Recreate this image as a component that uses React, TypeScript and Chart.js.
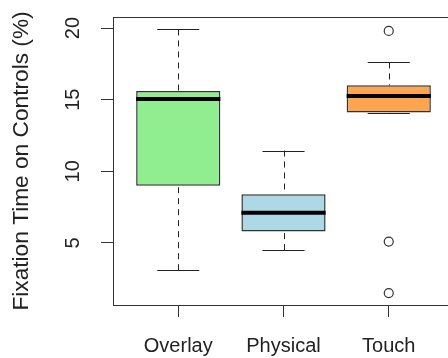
import React, { useEffect, useRef } from "react";
import { Chart, registerables } from "chart.js";

Chart.register(...registerables);

const categories = ["Overlay", "Physical", "Touch"];
const whiskerLow = [3.1, 4.5, 14.1];
const q1 = [9.0, 5.8, 14.1];
const median = [15.05, 7.1, 15.25];
const q3 = [15.6, 8.4, 16.0];
const whiskerHigh = [19.9, 11.45, 17.6];
const outlierGroup = [3, 3, 3];
const outlierValues = [19.8, 5.1, 1.5];
const yTicks = [5, 10, 15, 20];
const boxColors = ["#90EE90", "#ADD8E6", "#FFA54F"];

const INK = "#222222";
const FONT = "'Liberation Sans', Arial, sans-serif";

const boxplotPlugin = {
  id: "boxplotExtras",
  afterDatasetsDraw(chart: any) {
    const ctx = chart.ctx;
    const xs = chart.scales.x;
    const ys = chart.scales.y;
    ctx.save();
    ctx.strokeStyle = INK;
    ctx.lineWidth = 1;
    categories.forEach((_, i) => {
      const xc = Math.round(xs.getPixelForValue(i + 1)) + 0.5;
      const capL = xs.getPixelForValue(i + 1 - 0.2);
      const capR = xs.getPixelForValue(i + 1 + 0.2);
      const yLo = ys.getPixelForValue(whiskerLow[i]);
      const yQ1 = ys.getPixelForValue(q1[i]);
      const yQ3 = ys.getPixelForValue(q3[i]);
      const yHi = ys.getPixelForValue(whiskerHigh[i]);
      ctx.setLineDash([6, 5]);
      ctx.beginPath();
      ctx.moveTo(xc, yHi);
      ctx.lineTo(xc, yQ3);
      ctx.stroke();
      ctx.beginPath();
      ctx.moveTo(xc, yLo);
      ctx.lineTo(xc, yQ1);
      ctx.stroke();
      ctx.setLineDash([]);
      ctx.beginPath();
      ctx.moveTo(capL, Math.round(yHi) + 0.5);
      ctx.lineTo(capR, Math.round(yHi) + 0.5);
      ctx.moveTo(capL, Math.round(yLo) + 0.5);
      ctx.lineTo(capR, Math.round(yLo) + 0.5);
      ctx.stroke();
      const bl = xs.getPixelForValue(i + 1 - 0.4);
      const br = xs.getPixelForValue(i + 1 + 0.4);
      const ym = ys.getPixelForValue(median[i]);
      ctx.strokeStyle = "#000000";
      ctx.lineWidth = 4;
      ctx.beginPath();
      ctx.moveTo(bl, ym);
      ctx.lineTo(br, ym);
      ctx.stroke();
      ctx.strokeStyle = INK;
      ctx.lineWidth = 1;
    });
    const a = chart.chartArea;
    ctx.strokeStyle = "#333333";
    ctx.lineWidth = 1;
    ctx.strokeRect(Math.round(a.left) + 0.5, Math.round(a.top) + 0.5, Math.round(a.right - a.left), Math.round(a.bottom - a.top));
    ctx.restore();
  },
};

export default function App() {
  const ref = useRef<HTMLCanvasElement | null>(null);
  useEffect(() => {
    if (!ref.current) return;
    const chart = new Chart(ref.current, {
      type: "bar",
      data: {
        datasets: [
          {
            type: "bar",
            data: categories.map((_, i) => ({ x: i + 1, y: [q1[i], q3[i]] })) as any,
            backgroundColor: boxColors,
            borderColor: "#333333",
            borderWidth: 1.5,
            borderSkipped: false,
            barPercentage: 0.8,
            categoryPercentage: 1,
          } as any,
          {
            type: "scatter",
            data: outlierValues.map((v, i) => ({ x: outlierGroup[i], y: v })),
            pointStyle: "circle",
            pointRadius: 4.5,
            pointBackgroundColor: "#ffffff",
            pointBorderColor: "#333333",
            pointBorderWidth: 1.2,
          } as any,
        ],
      },
      options: {
        animation: false,
        responsive: false,
        events: [],
        layout: { padding: { top: 17, right: 16, left: 0, bottom: 0 } },
        plugins: { legend: { display: false }, tooltip: { enabled: false } },
        scales: {
          x: {
            type: "linear",
            min: 0.38,
            max: 3.62,
            offset: false,
            afterBuildTicks: (s: any) => {
              s.ticks = categories.map((_, i) => ({ value: i + 1 }));
            },
            afterFit: (s: any) => {
              s.height = 53;
              s.paddingLeft = 0;
              s.paddingRight = 0;
            },
            ticks: {
              autoSkip: false,
              maxRotation: 0,
              minRotation: 0,
              padding: 17,
              color: INK,
              font: { family: FONT, size: 20 },
              callback: (v: any) => categories[Math.round(Number(v)) - 1] ?? "",
            },
            grid: { offset: false, drawOnChartArea: false, drawTicks: true, tickLength: 12, color: "#333333", lineWidth: 1 },
            border: { display: false },
          },
          y: {
            type: "linear",
            min: 0.67,
            max: 20.77,
            afterBuildTicks: (s: any) => {
              s.ticks = yTicks.map((v) => ({ value: v }));
            },
            afterFit: (s: any) => {
              s.width = 113;
              s.paddingTop = 0;
              s.paddingBottom = 0;
            },
            ticks: {
              autoSkip: false,
              minRotation: 90,
              maxRotation: 90,
              crossAlign: "center",
              padding: 16,
              color: INK,
              font: { family: FONT, size: 20 },
            },
            grid: { offset: false, drawOnChartArea: false, drawTicks: true, tickLength: 12, color: "#333333", lineWidth: 1 },
            border: { display: false },
            title: {
              display: true,
              text: "Fixation Time on Controls (%)",
              color: INK,
              font: { family: FONT, size: 22.7 },
              padding: { top: 8, bottom: 0 },
            },
          },
        },
      },
      plugins: [boxplotPlugin],
    });
    return () => chart.destroy();
  }, []);
  return (
    <div style={{ position: "absolute", left: 0, top: 0, width: 448, height: 358, overflow: "hidden", background: "#fff" }}>
      <canvas ref={ref} width={470} height={358} style={{ display: "block" }} />
    </div>
  );
}
